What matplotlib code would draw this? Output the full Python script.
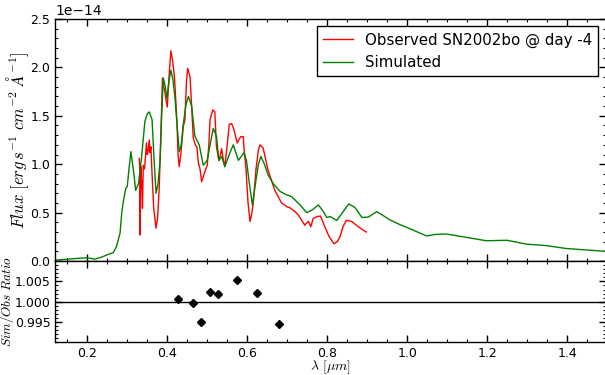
import numpy as np
import matplotlib
matplotlib.use("Agg")
import matplotlib.pyplot as plt
from matplotlib.ticker import AutoMinorLocator, MultipleLocator

# Simulated spectrum (wavelength in micron, flux in 1e-14 erg/s/cm^2/A)
sim_wave = [0.12, 0.15, 0.199, 0.219, 0.235, 0.2525, 0.265, 0.273, 0.282, 0.286,
            0.29, 0.296, 0.30, 0.304, 0.309, 0.315, 0.321, 0.328, 0.336, 0.344,
            0.350, 0.355, 0.362, 0.367, 0.372, 0.377, 0.382, 0.386, 0.39, 0.395,
            0.399, 0.404, 0.409, 0.414, 0.419, 0.425, 0.43, 0.435, 0.44, 0.447,
            0.453, 0.461, 0.469, 0.48, 0.49, 0.50, 0.508, 0.515, 0.523, 0.529,
            0.536, 0.544, 0.555, 0.565, 0.578, 0.585, 0.592, 0.598, 0.606, 0.613,
            0.622, 0.628, 0.634, 0.643, 0.652, 0.665, 0.682, 0.695, 0.711, 0.732,
            0.749, 0.763, 0.778, 0.789, 0.799, 0.807, 0.824, 0.838, 0.854, 0.869,
            0.887, 0.903, 0.924, 0.94, 0.957, 0.98, 1.015, 1.048, 1.07, 1.098,
            1.148, 1.198, 1.25, 1.298, 1.348, 1.398, 1.448, 1.5]
sim_flux = [0.01, 0.02, 0.035, 0.02, 0.04, 0.07, 0.087, 0.15, 0.29, 0.49,
            0.61, 0.75, 0.77, 0.94, 1.13, 0.95, 0.73, 0.80, 1.08, 1.44,
            1.52, 1.54, 1.46, 1.05, 0.70, 0.80, 1.04, 1.50, 1.89, 1.80,
            1.68, 1.85, 1.97, 1.88, 1.70, 1.38, 1.13, 1.20, 1.41, 1.62,
            1.70, 1.60, 1.29, 1.20, 0.99, 1.04, 1.22, 1.37, 1.29, 1.04,
            1.08, 0.975, 1.10, 1.20, 1.04, 1.08, 1.12, 1.04, 0.78, 0.58,
            0.84, 1.00, 1.08, 1.00, 0.89, 0.80, 0.72, 0.69, 0.665, 0.58,
            0.50, 0.53, 0.58, 0.52, 0.45, 0.46, 0.42, 0.50, 0.59, 0.555,
            0.45, 0.455, 0.51, 0.47, 0.425, 0.38, 0.32, 0.26, 0.275, 0.28,
            0.245, 0.21, 0.215, 0.175, 0.16, 0.13, 0.115, 0.10]

# Observed SN2002bo @ day -4
obs_wave = [0.330, 0.331, 0.332, 0.333, 0.334, 0.336, 0.338, 0.340, 0.343, 0.346,
            0.348, 0.350, 0.352, 0.355, 0.357, 0.359, 0.362, 0.366, 0.372, 0.376,
            0.380, 0.384, 0.388, 0.391, 0.394, 0.397, 0.400, 0.403, 0.405, 0.409,
            0.413, 0.418, 0.424, 0.427, 0.430, 0.434, 0.440, 0.444, 0.448, 0.451,
            0.457, 0.461, 0.465, 0.470, 0.474, 0.478, 0.482, 0.486, 0.492, 0.500,
            0.504, 0.507, 0.514, 0.519, 0.523, 0.529, 0.533, 0.536, 0.540, 0.544,
            0.550, 0.555, 0.561, 0.565, 0.569, 0.575, 0.580, 0.584, 0.590, 0.592,
            0.597, 0.602, 0.607, 0.611, 0.615, 0.622, 0.628, 0.632, 0.640, 0.652,
            0.669, 0.686, 0.700, 0.707, 0.720, 0.728, 0.744, 0.748, 0.753, 0.759,
            0.765, 0.775, 0.783, 0.790, 0.794, 0.805, 0.817, 0.825, 0.832, 0.840,
            0.848, 0.861, 0.870, 0.878, 0.890, 0.898]
obs_flux = [1.06, 0.98, 0.27, 0.90, 0.975, 0.80, 0.545, 0.99, 0.95, 1.10,
            1.22, 1.10, 1.13, 1.25, 1.12, 1.18, 0.90, 0.55, 0.34, 0.45,
            0.77, 1.30, 1.89, 1.80, 1.75, 1.66, 1.59, 1.80, 1.94, 2.17,
            2.08, 1.90, 1.46, 1.10, 0.975, 1.10, 1.39, 1.45, 1.85, 1.99,
            1.90, 1.60, 1.27, 1.20, 1.18, 1.01, 0.95, 0.82, 0.90, 0.99,
            1.20, 1.46, 1.56, 1.54, 1.18, 1.04, 1.10, 1.16, 1.05, 0.975,
            1.20, 1.41, 1.42, 1.38, 1.32, 1.22, 1.26, 1.285, 1.285, 1.165,
            0.95, 0.60, 0.41, 0.48, 0.60, 0.95, 1.15, 1.20, 1.165, 0.94,
            0.73, 0.60, 0.56, 0.55, 0.51, 0.475, 0.37, 0.39, 0.41, 0.355,
            0.44, 0.46, 0.465, 0.40, 0.355, 0.25, 0.18, 0.20, 0.25, 0.36,
            0.42, 0.41, 0.38, 0.355, 0.32, 0.30]

# Sim/Obs ratio points
ratio_wave = [0.428, 0.464, 0.484, 0.506, 0.527, 0.574, 0.624, 0.679]
ratio_vals = [1.0007, 0.99975, 0.99507, 1.00245, 1.00188, 1.00525, 1.00213, 0.99443]

xticks = [0.2, 0.4, 0.6, 0.8, 1.0, 1.2, 1.4]
flux_ticks = [0.0, 0.5, 1.0, 1.5, 2.0, 2.5]
ratio_ticks = [0.995, 1.000, 1.005]

plt.rcParams['mathtext.fontset'] = 'cm'
plt.rcParams['font.family'] = ['DejaVu Sans']

fig = plt.figure(figsize=(6.05, 3.75), dpi=100)
W, H = 605.0, 375.0
x0, x1 = 55.3, 605.5
ax1 = fig.add_axes([x0 / W, (H - 261.1) / H, (x1 - x0) / W, (261.1 - 18.9) / H])
ax2 = fig.add_axes([x0 / W, (H - 342.3) / H, (x1 - x0) / W, (342.3 - 261.1) / H], sharex=ax1)

ax1.plot(obs_wave, np.array(obs_flux) * 1e-14, color='red', lw=1.0,
         label='Observed SN2002bo @ day -4')
ax1.plot(sim_wave, np.array(sim_flux) * 1e-14, color='green', lw=1.0,
         label='Simulated')
ax1.set_xlim(0.12, 1.496)
ax1.set_ylim(0, 2.5e-14)
ax1.set_yticks(np.array(flux_ticks) * 1e-14)
ax1.yaxis.set_minor_locator(AutoMinorLocator(5))
ax1.set_ylabel(r'$Flux\ [erg\,s^{-1}\ cm^{-2}\ \AA^{-1}]$', fontsize=12)
plt.setp(ax1.get_xticklabels(), visible=False)
leg = ax1.legend(loc='upper right', fontsize=10.8, fancybox=False, framealpha=1,
                 handlelength=2.0, borderaxespad=0.5)
leg.get_frame().set_edgecolor('black')
leg.get_frame().set_linewidth(1.0)

ax2.axhline(1.0, color='black', lw=1.0)
ax2.plot(ratio_wave, ratio_vals, linestyle='none', marker='D', color='black',
         markersize=4.5)
ax2.set_ylim(0.99, 1.01)
ax2.set_yticks(ratio_ticks)
ax2.set_yticklabels(['%.3f' % v for v in ratio_ticks])
ax2.yaxis.set_minor_locator(AutoMinorLocator(5))
ax2.set_xticks(xticks)
ax2.set_xticklabels(['%.1f' % v for v in xticks])
ax2.xaxis.set_minor_locator(MultipleLocator(0.05))
ax2.set_xlabel(r'$\lambda\ [\mu m]$', fontsize=10, labelpad=-1)
ax2.set_ylabel(r'$Sim/Obs\ Ratio$', fontsize=9.5)

for ax in (ax1, ax2):
    ax.tick_params(which='both', direction='in', top=True, right=True, labelsize=9)
    ax.tick_params(which='major', length=5, width=1)
    ax.tick_params(which='minor', length=2.5, width=0.8)
    for s in ax.spines.values():
        s.set_linewidth(1.0)
ax1.yaxis.get_offset_text().set_fontsize(10)
ax1.yaxis.set_label_coords(-0.044, 0.5)
ax2.yaxis.set_label_coords(-0.071, 0.5)

fig.savefig('out.png', dpi=100)
